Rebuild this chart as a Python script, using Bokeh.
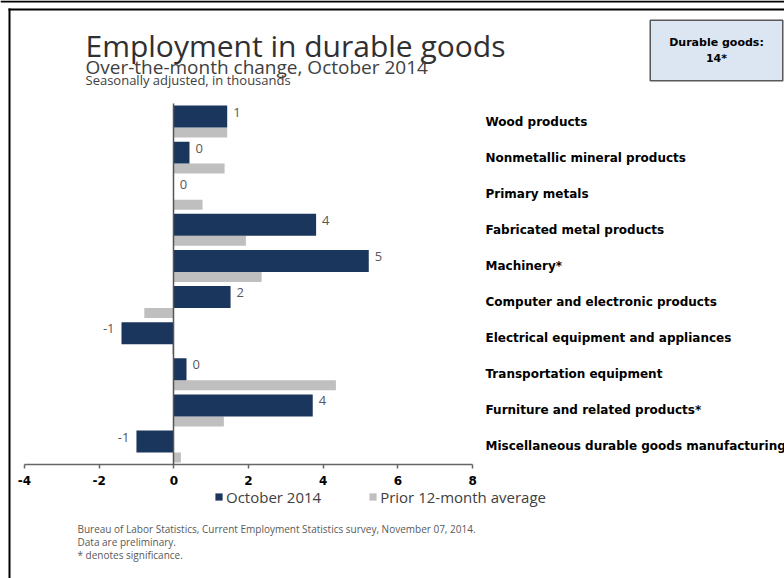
from bokeh.plotting import figure
from bokeh.models import (Label, Legend, LegendItem, LinearAxis, FixedTicker, Span,
                          ColumnDataSource, Range1d)
from bokeh.core.properties import value
from bokeh.embed import file_html
from bokeh.resources import INLINE

# ---------------- data ----------------
categories = [
    "Wood products",
    "Nonmetallic mineral products",
    "Primary metals",
    "Fabricated metal products",
    "Machinery*",
    "Computer and electronic products",
    "Electrical equipment and appliances",
    "Transportation equipment",
    "Furniture and related products*",
    "Miscellaneous durable goods manufacturing",
]
october_2014 = [1.43, 0.42, 0.0, 3.81, 5.22, 1.52, -1.40, 0.34, 3.72, -1.00]
prior_12mo_avg = [1.43, 1.36, 0.77, 1.93, 2.35, -0.79, -0.04, 4.34, 1.34, 0.19]
value_labels = ["1", "0", "0", "4", "5", "2", "-1", "0", "4", "-1"]
x_ticks = [-4, -2, 0, 2, 4, 6, 8]
x_tick_labels = ["-4", "-2", "0", "2", "4", "6", "8"]
total_text = "Durable goods:\n14*"
title_text = "Employment in durable goods"
subtitle_text = "Over-the-month change, October 2014"
unit_text = "Seasonally adjusted, in thousands"
notes = [
    "Bureau of Labor Statistics, Current Employment Statistics survey, November 07, 2014.",
    "Data are preliminary.",
    "* denotes significance.",
]

# ---------------- geometry ----------------
W, H = 784, 578
PX0, KX = 173.3, 37.35   # px of x=0, px per unit
PY0, KY = 121.0, 36.11   # px of first category centre, px per category


def fx(px):
    return (px - PX0) / KX


def fy(py):
    return -(py - PY0) / KY


n = len(categories)
y_cat = [-i for i in range(n)]
y_dark = [y + 0.138 for y in y_cat]
y_grey = [y - 0.305 for y in y_cat]
y_lab = [y + 0.26 for y in y_cat]

p = figure(width=W, height=H, title=None,
           x_range=Range1d(fx(0), fx(W)), y_range=Range1d(fy(H), fy(0)),
           output_backend="svg", toolbar_location=None, min_border=0,
           x_axis_location=None, y_axis_location=None)
p.grid.visible = False
p.outline_line_color = None
p.background_fill_color = "white"

src = ColumnDataSource(dict(y_dark=y_dark, y_grey=y_grey, oct=october_2014, avg=prior_12mo_avg))
r_avg = p.hbar(y="y_grey", left=0, right="avg", height=0.277, source=src,
               fill_color="#bfbfbf", line_color=None)
r_oct = p.hbar(y="y_dark", left=0, right="oct", height=0.609, source=src,
               fill_color="#1b365d", line_color=None)

# value labels
pos = [i for i in range(n) if october_2014[i] >= 0]
neg = [i for i in range(n) if october_2014[i] < 0]
p.text(x=[october_2014[i] for i in pos], y=[y_lab[i] for i in pos],
       text=[value_labels[i] for i in pos], x_offset=6,
       text_align="left", text_baseline="middle",
       text_font=value("Open Sans"), text_font_size="13px", text_color="#595959")
p.text(x=[october_2014[i] for i in neg], y=[y_lab[i] for i in neg],
       text=[value_labels[i] for i in neg], x_offset=-7,
       text_align="right", text_baseline="middle",
       text_font=value("Open Sans"), text_font_size="13px", text_color="#595959")

# category labels
p.text(x=[fx(485)] * n, y=y_cat, text=categories,
       text_align="left", text_baseline="middle",
       text_font=value("DejaVu Sans"), text_font_style="bold",
       text_font_size="12px", text_color="black")

# axes
xaxis = LinearAxis(fixed_location=-9.5, bounds=(-4, 8), ticker=FixedTicker(ticks=x_ticks))
xaxis.major_label_overrides = {t: s for t, s in zip(x_ticks, x_tick_labels)}
xaxis.axis_line_color = "#666666"
xaxis.axis_line_width = 1.5
xaxis.major_tick_line_color = "#666666"
xaxis.major_tick_line_width = 1.5
xaxis.major_tick_in = 0
xaxis.major_tick_out = 4
xaxis.minor_tick_line_color = None
xaxis.major_label_standoff = 7
xaxis.major_label_text_font = "DejaVu Sans"
xaxis.major_label_text_font_style = "bold"
xaxis.major_label_text_font_size = "12px"
xaxis.major_label_text_color = "black"
p.add_layout(xaxis, "below")

yaxis = LinearAxis(fixed_location=0, bounds=(-9.5, 0.5), ticker=FixedTicker(ticks=[]))
yaxis.axis_line_color = "#555555"
yaxis.axis_line_width = 1.5
yaxis.major_tick_line_color = None
yaxis.minor_tick_line_color = None
yaxis.major_label_text_color = None
p.add_layout(yaxis, "left")

# legend
legend = Legend(items=[LegendItem(label="October 2014", renderers=[r_oct]),
                       LegendItem(label="Prior 12-month average", renderers=[r_avg])],
                orientation="horizontal", location=(214, 71.5),
                glyph_width=9, glyph_height=9, label_height=9, label_standoff=3,
                spacing=47, padding=0, margin=0, border_line_color=None,
                background_fill_alpha=0, label_text_font="Open Sans",
                label_text_font_size="15px", label_text_color="#404040")
p.add_layout(legend)

# titles
for txt, base, size, col in [(title_text, 44.5, "30px", "#303030"),
                             (subtitle_text, 66, "19px", "#404040"),
                             (unit_text, 79, "13px", "#404040")]:
    p.add_layout(Label(x=fx(85), y=fy(base), text=txt, text_align="left",
                       text_baseline="alphabetic", text_font="Open Sans",
                       text_font_size=size, text_color=col))

# notes
for txt, base in zip(notes, [528, 541, 554]):
    p.add_layout(Label(x=fx(77), y=fy(base), text=txt, text_align="left",
                       text_baseline="alphabetic", text_font="Open Sans",
                       text_font_size="10px", text_color="#595959"))

# total box
p.add_layout(Label(x=fx(716), y=fy(50), text=total_text, text_align="center",
                   text_baseline="middle", text_font="DejaVu Sans",
                   text_font_style="bold", text_font_size="11px", text_color="black",
                   background_fill_color="#dce6f2", border_line_color="#595959",
                   border_line_width=1.5,
                   padding=dict(left=19, right=19, top=16, bottom=16)))

# frame borders (left and top edges of the chart panel, plus the rule above it)
for loc, bnds, place in [(fx(9), (fy(H), fy(8)), "left"), (fy(9), (fx(8), fx(W)), "below")]:
    edge = LinearAxis(fixed_location=loc, bounds=bnds, ticker=FixedTicker(ticks=[]))
    edge.axis_line_color = "black"
    edge.axis_line_width = 2
    edge.major_tick_line_color = None
    edge.minor_tick_line_color = None
    edge.major_label_text_color = None
    p.add_layout(edge, place)
p.add_layout(Span(location=fy(1), dimension="width", line_color="black", line_width=2))

open("out.html", "w").write(file_html(p, INLINE))
